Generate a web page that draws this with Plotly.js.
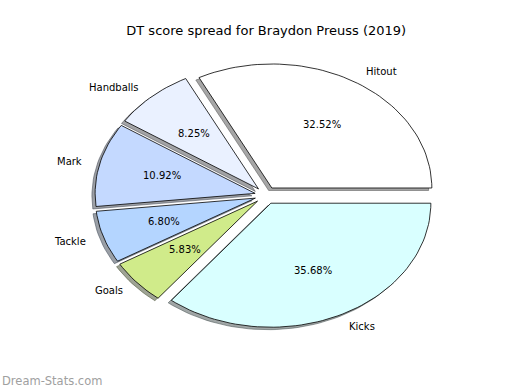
<!DOCTYPE html>
<html>
<head>
<meta charset="utf-8">
<script src="https://cdn.plot.ly/plotly-3.0.1.min.js"></script>
<style>html,body{margin:0;padding:0;background:#fff;}#chart{width:520px;height:390px;}</style>
</head>
<body>
<div id="chart"></div>
<script>
// ---- data ----
var categories = ["Hitout", "Handballs", "Mark", "Tackle", "Goals", "Kicks"];
var values = [32.52, 8.25, 10.92, 6.80, 5.83, 35.68];
var colors = ["#ffffff", "#eaf1ff", "#c4d9ff", "#b4d5ff", "#d0eb8a", "#d9ffff"];
var explode = [0.07, 0.07, 0.07, 0.07, 0.07, 0.07];
var chartTitle = "DT score spread for Braydon Preuss (2019)";
var watermark = "Dream-Stats.com";

// ---- build elliptical pie (matplotlib style, start at 0 deg, counter-clockwise) ----
var total = values.reduce(function(a, b){ return a + b; }, 0);
var shadowTraces = [], wedgeTraces = [], annotations = [];
var theta1 = 0;
function hexToRgb(h){ return [parseInt(h.substr(1,2),16), parseInt(h.substr(3,2),16), parseInt(h.substr(5,2),16)]; }
for (var i = 0; i < values.length; i++) {
  var frac = values[i] / total;
  var theta2 = theta1 + frac * 360;
  var thetam = (theta1 + theta2) / 2 * Math.PI / 180;
  var cx = explode[i] * Math.cos(thetam), cy = explode[i] * Math.sin(thetam);
  var xs = [cx], ys = [cy];
  var n = Math.max(4, Math.ceil((theta2 - theta1) / 2));
  for (var k = 0; k <= n; k++) {
    var a = (theta1 + (theta2 - theta1) * k / n) * Math.PI / 180;
    xs.push(cx + Math.cos(a)); ys.push(cy + Math.sin(a));
  }
  xs.push(cx); ys.push(cy);
  var rgb = hexToRgb(colors[i]);
  var sc = 'rgba(' + Math.round(rgb[0]*0.3) + ',' + Math.round(rgb[1]*0.3) + ',' + Math.round(rgb[2]*0.3) + ',0.5)';
  shadowTraces.push({
    type: 'scatter', mode: 'lines', fill: 'toself', hoverinfo: 'skip', showlegend: false,
    x: xs.map(function(v){ return v - 0.02; }), y: ys.map(function(v){ return v - 0.02; }),
    fillcolor: sc, line: {color: sc, width: 1}
  });
  wedgeTraces.push({
    type: 'scatter', mode: 'lines', fill: 'toself', name: categories[i], showlegend: false,
    x: xs, y: ys, fillcolor: colors[i], line: {color: '#000000', width: 0.8},
    hoverinfo: 'name'
  });
  var lx = cx + 1.1 * Math.cos(thetam), ly = cy + 1.1 * Math.sin(thetam);
  annotations.push({
    x: lx, y: ly, xref: 'x', yref: 'y', text: categories[i], showarrow: false,
    xanchor: lx > 0 ? 'left' : 'right', yanchor: 'middle',
    font: {family: 'DejaVu Sans', size: 10, color: '#000'}
  });
  annotations.push({
    x: cx + 0.6 * Math.cos(thetam), y: cy + 0.6 * Math.sin(thetam), xref: 'x', yref: 'y',
    text: (frac * 100).toFixed(2) + '%', showarrow: false,
    xanchor: 'center', yanchor: 'middle',
    font: {family: 'DejaVu Sans', size: 10, color: '#000'}
  });
  theta1 = theta2;
}
annotations.push({
  x: 0, y: 0, xref: 'paper', yref: 'paper', xanchor: 'left', yanchor: 'bottom',
  text: watermark, showarrow: false,
  font: {family: 'DejaVu Sans', size: 11.5, color: '#a0a0a0'}
});

var layout = {
  width: 520, height: 390,
  margin: {l: 0, r: 0, t: 0, b: 0},
  paper_bgcolor: '#ffffff', plot_bgcolor: '#ffffff',
  showlegend: false,
  title: {text: chartTitle, x: 0.512, xanchor: 'center', y: 0.923, yanchor: 'middle',
          font: {family: 'DejaVu Sans', size: 13, color: '#000'}},
  xaxis: {range: [-1.6625, 1.5875], visible: false, fixedrange: true},
  yaxis: {range: [-1.5694, 1.5758], visible: false, fixedrange: true},
  annotations: annotations
};
Plotly.newPlot('chart', shadowTraces.concat(wedgeTraces), layout, {displayModeBar: false, staticPlot: true});
</script>
</body>
</html>
